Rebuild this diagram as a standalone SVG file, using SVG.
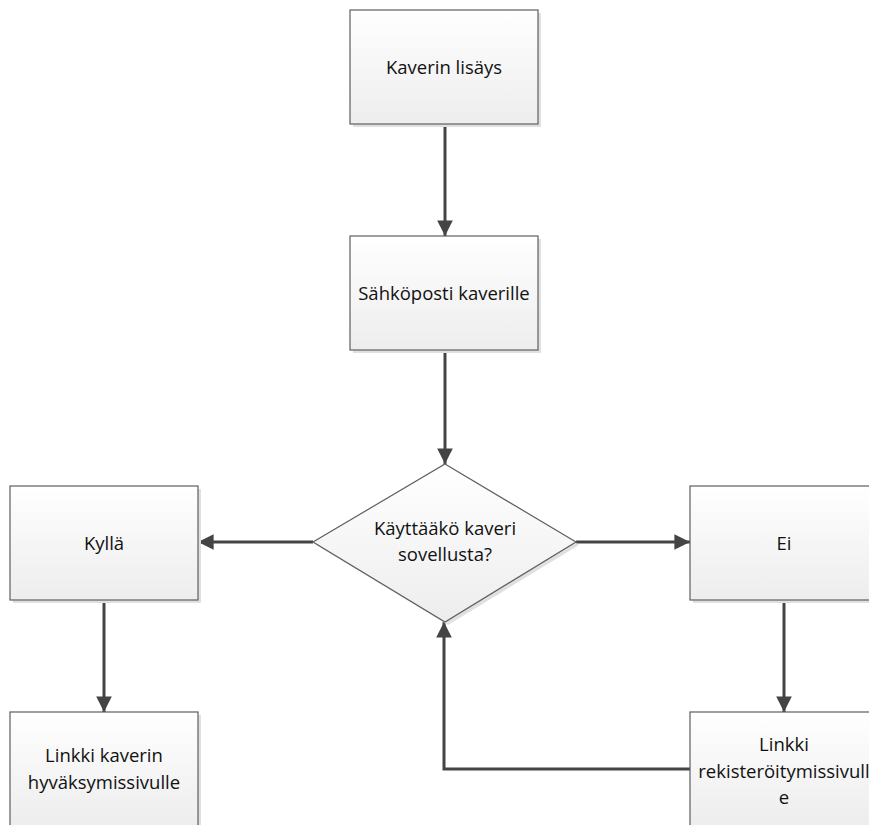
<svg xmlns="http://www.w3.org/2000/svg" width="869" height="825" viewBox="0 0 869 825">
  <style>
    .box { fill: url(#boxFill); stroke: #5e5e5e; stroke-width: 1.2; }
    .shadow { fill: #e0e0e0; }
    .label { font-family: "Open Sans", "Liberation Sans", sans-serif; font-size: 18.5px; fill: #111; text-anchor: middle; }
    .link { fill: none; stroke: #444; stroke-width: 3; }
  </style>
  <defs>
    <linearGradient id="boxFill" x1="0" y1="0" x2="0" y2="1">
      <stop offset="0" stop-color="#ffffff"/>
      <stop offset="1" stop-color="#ededed"/>
    </linearGradient>
    <marker id="arrow" viewBox="0 0 10 10" refX="10" refY="5" markerWidth="5.2" markerHeight="5.2" markerUnits="strokeWidth" orient="auto">
      <path d="M0,0 L10,5 L0,10 Z" fill="#444"/>
    </marker>
  </defs>

  <g id="connectors">
    <line class="link" x1="445" y1="124" x2="445" y2="236" marker-end="url(#arrow)"/>
    <line class="link" x1="445" y1="350" x2="445" y2="464" marker-end="url(#arrow)"/>
    <line class="link" x1="313" y1="542" x2="198" y2="542" marker-end="url(#arrow)"/>
    <line class="link" x1="576" y1="542" x2="690" y2="542" marker-end="url(#arrow)"/>
    <line class="link" x1="104" y1="600" x2="104" y2="712" marker-end="url(#arrow)"/>
    <line class="link" x1="784" y1="600" x2="784" y2="712" marker-end="url(#arrow)"/>
    <polyline class="link" points="690,769 444,769 444,622" marker-end="url(#arrow)"/>
  </g>

  <g id="kaverin-lisays">
    <rect class="shadow" x="353" y="13" width="188" height="114"/>
    <rect class="box" x="350" y="10" width="188" height="114"/>
    <text class="label" x="444" y="74">Kaverin lisäys</text>
  </g>

  <g id="sahkoposti">
    <rect class="shadow" x="353" y="239" width="188" height="114"/>
    <rect class="box" x="350" y="236" width="188" height="114"/>
    <text class="label" x="444" y="300">Sähköposti kaverille</text>
  </g>

  <g id="kayttaako">
    <polygon class="shadow" points="448,467 579,545 448,625 316,545"/>
    <polygon class="box" points="445,464 576,542 445,622 313,542"/>
    <text class="label" x="445" y="535">Käyttääkö kaveri</text>
    <text class="label" x="445" y="561">sovellusta?</text>
  </g>

  <g id="kylla">
    <rect class="shadow" x="13" y="489" width="188" height="114"/>
    <rect class="box" x="10" y="486" width="188" height="114"/>
    <text class="label" x="104" y="550">Kyllä</text>
  </g>

  <g id="ei">
    <rect class="shadow" x="693" y="489" width="188" height="114"/>
    <rect class="box" x="690" y="486" width="188" height="114"/>
    <text class="label" x="784" y="550">Ei</text>
  </g>

  <g id="linkki-hyvaksymis">
    <rect class="shadow" x="13" y="715" width="188" height="114"/>
    <rect class="box" x="10" y="712" width="188" height="114"/>
    <text class="label" x="104" y="762">Linkki kaverin</text>
    <text class="label" x="104" y="789">hyväksymissivulle</text>
  </g>

  <g id="linkki-rekisteroitymis">
    <rect class="shadow" x="693" y="715" width="188" height="114"/>
    <rect class="box" x="690" y="712" width="188" height="114"/>
    <text class="label" x="784" y="751">Linkki</text>
    <text class="label" x="784" y="778">rekisteröitymissivull</text>
    <text class="label" x="784" y="804">e</text>
  </g>
</svg>
